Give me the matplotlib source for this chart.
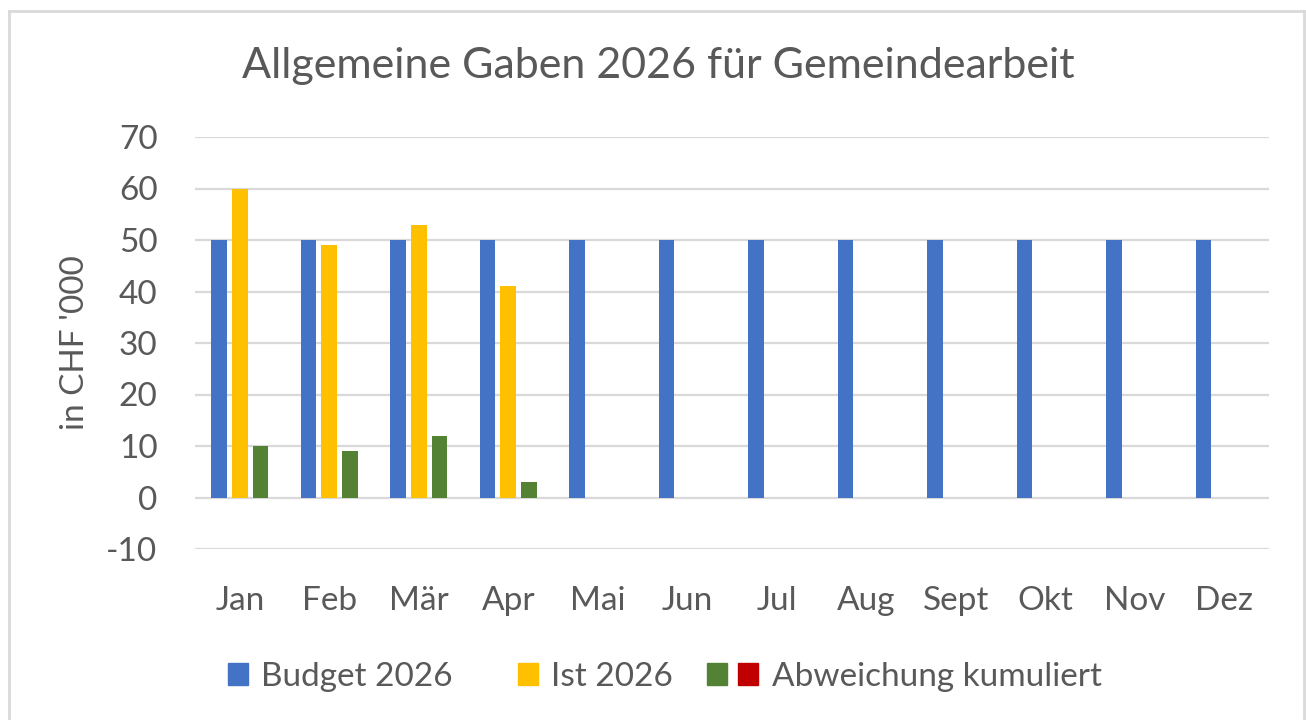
import matplotlib.pyplot as plt
from matplotlib.patches import Patch, Rectangle
from matplotlib.legend_handler import HandlerBase
from matplotlib.lines import Line2D

months = ['Jan', 'Feb', 'Mär', 'Apr', 'Mai', 'Jun', 'Jul', 'Aug', 'Sept', 'Okt', 'Nov', 'Dez']
budget = [50, 50, 50, 50, 50, 50, 50, 50, 50, 50, 50, 50]
ist = [60, 49, 53, 41]
abweichung = [10, 9, 12, 3]

BLUE = '#4472C4'
YELLOW = '#FFC000'
GREEN = '#548235'
RED = '#C00000'
TXT = '#595959'

plt.rcParams['font.family'] = ['Lato', 'DejaVu Sans']
plt.rcParams['axes.unicode_minus'] = False


class PosNeg:
    # legend entry for a series with "invert if negative" colours
    def __init__(self, pos, neg):
        self.pos = pos
        self.neg = neg


class PosNegHandler(HandlerBase):
    def create_artists(self, legend, orig_handle, xdescent, ydescent,
                       width, height, fontsize, trans):
        gap = 0.33 * fontsize
        neg = Rectangle((-xdescent, -ydescent), width, height,
                        color=orig_handle.neg, transform=trans)
        pos = Rectangle((-xdescent - width - gap, -ydescent), width, height,
                        color=orig_handle.pos, transform=trans)
        return [pos, neg]


fig = plt.figure(figsize=(13.06, 7.2), dpi=100)
ax = fig.add_axes([195 / 1306, 1 - 549 / 720, 1074 / 1306, 412 / 720])

w = 0.175
step = 0.23
x = list(range(len(months)))
ax.bar([i - step for i in x], budget, w, color=BLUE, zorder=3)
ax.bar([i for i in range(len(ist))], ist, w, color=YELLOW, zorder=3)
ax.bar([i + step for i in range(len(abweichung))], abweichung, w,
       color=[GREEN if v >= 0 else RED for v in abweichung], zorder=3)

ax.set_xlim(-0.5, len(months) - 0.5)
ax.set_ylim(-10, 70)
ax.set_yticks(range(-10, 71, 10))
ax.set_xticks(x)
ax.set_xticklabels(months)
ax.grid(axis='y', color='#d9d9d9', linewidth=1.6, zorder=0)
for s in ax.spines.values():
    s.set_visible(False)
ax.tick_params(axis='both', length=0, labelsize=24, colors=TXT)
ax.tick_params(axis='y', pad=27)
ax.tick_params(axis='x', pad=27)
ax.set_ylabel("in CHF '000", fontsize=24, color=TXT, labelpad=12)

fig.text(0.504, 1 - 66 / 720, 'Allgemeine Gaben 2026 für Gemeindearbeit',
         ha='center', va='center', fontsize=31, color=TXT)

handles = [Patch(color=BLUE), Patch(color=YELLOW), PosNeg(GREEN, RED)]
labels = ['Budget 2026', 'Ist 2026', 'Abweichung kumuliert']
fig.legend(handles, labels, loc='center', bbox_to_anchor=(0.509, 1 - 677 / 720),
           ncol=3, frameon=False, fontsize=24, labelcolor=TXT,
           handler_map={PosNeg: PosNegHandler()},
           handlelength=0.6, handleheight=0.65, handletextpad=0.4, columnspacing=1.95)

# chart frame
fc = '#d9d9d9'
fig.add_artist(Line2D([9 / 1306, 1304 / 1306], [1 - 11 / 720] * 2, color=fc, lw=2))
fig.add_artist(Line2D([9 / 1306] * 2, [0, 1 - 11 / 720], color=fc, lw=2))
fig.add_artist(Line2D([1304 / 1306] * 2, [0, 1 - 11 / 720], color=fc, lw=2))

fig.savefig('out.png', dpi=100)
